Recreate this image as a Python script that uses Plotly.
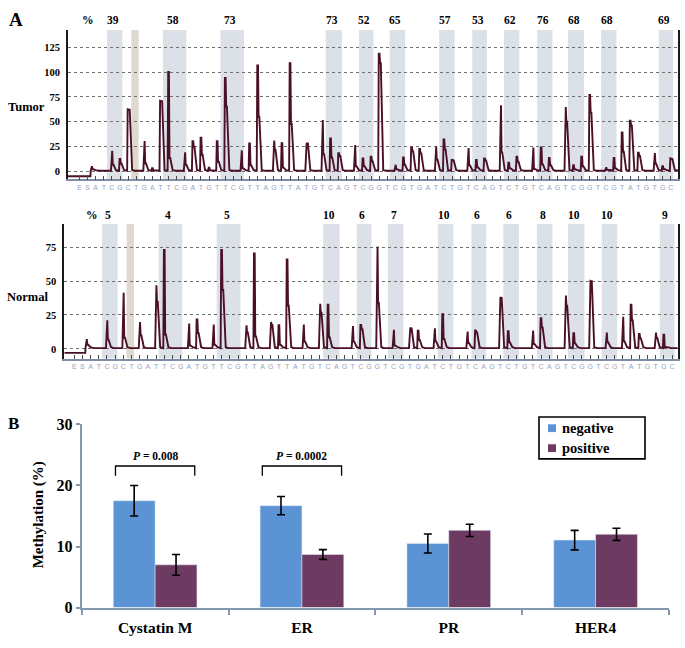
import plotly.graph_objects as go

W, H = 685, 648

# ---------------- Panel A data (pyrograms) ----------------
dispensation_seq = list("ESATCGCTGA" "TTCGATGTTC" "GTTAGTTATG" "TCAGTCGGTC"
                        "GTGATCTGTC" "AGTCTGTCAG" "TCGGTCGTAT" "GTGC")

# shaded CpG regions (dispensation index ranges); the beige one is the bisulfite control
cpg_regions = [(3.4, 5.3), (10.3, 13.2), (17.4, 20.3), (30.4, 32.4), (34.5, 36.3),
               (38.3, 40.2), (44.4, 46.3), (48.5, 50.3), (52.4, 54.3), (56.5, 58.4),
               (60.3, 62.3), (64.4, 66.3), (71.5, 73.3)]
control_region = (6.4, 7.3)

tumor_pct = ["39", "58", "73", "73", "52", "65", "57", "53", "62", "76", "68", "68", "69"]
normal_pct = ["5", "4", "5", "10", "6", "7", "10", "6", "6", "8", "10", "10", "9"]

tumor_start_level = -5
tumor_pos = [1.5, 4, 5, 6, 8, 9, 10, 11, 13, 14, 15, 16, 17, 18, 20, 21, 22, 24, 25, 26,
             28, 30, 31, 32, 34, 35, 36, 37, 39, 40, 41, 42, 44, 45, 46, 48, 49, 50, 52,
             53, 54, 56, 57, 58, 60, 61, 62, 63, 65, 66, 67, 68, 69, 71, 72, 73]
tumor_peak = [5, 20.6, 12.4, 62.5, 30.4, 3, 71, 100, 19, 30.4, 33.7, 3.6, 30.4, 94, 21, 28,
              106.6, 31, 28.4, 109, 28.4, 51.7, 33, 18.3, 26.5, 13, 14.7, 118.4, 6.5, 14,
              24, 22.6, 25, 32, 11.4, 23.5, 11.4, 13, 66.4, 8.5, 14.7, 24, 24, 13.4, 64.7,
              6, 14.7, 76.8, 4, 13.4, 39, 51, 18.6, 18.3, 5.2, 13]
tumor_tail = [2, 6.5, 7.5, 62, 8, 1, 70.5, 13.4, 6.5, 24.5, 16.7, 1, 9.5, 65, 3, 6,
              55, 21.6, 3.6, 47.7, 28, 17.3, 14, 15.4, 5, 5, 10, 109, 2, 6.5,
              20, 18, 11.8, 22, 11, 6, 4, 10.8, 19, 3, 9.5, 2.3, 7, 6, 50,
              2, 5, 59, 1.5, 3, 19.6, 45.8, 15.4, 7.5, 2.3, 12.4]

normal_start_level = -3
normal_pos = [1.5, 4, 6, 8, 10, 11, 14, 15, 17, 18, 21, 22, 24, 25, 26, 28, 30, 31, 34, 35,
              37, 39, 41, 42, 44, 45, 48, 49, 52, 53, 56, 57, 60, 61, 63, 65, 67, 68, 69,
              71, 72]
normal_peak = [7.2, 21, 41.5, 19.8, 47, 73, 18.6, 21.7, 18, 73, 17.4, 70.5, 19.8, 17.4, 66,
               17.9, 33.3, 32.6, 16.9, 17.6, 75.6, 14, 15.7, 13.3, 15.2, 25.6, 12.8, 13.5,
               38.2, 13, 13.5, 22.7, 39.4, 11.6, 50.2, 12, 23.7, 32.6, 10.9, 12, 10.4]
normal_tail = [3, 6.8, 8.2, 10, 34.8, 10.6, 2.4, 11.6, 3, 43.5, 12, 9.2, 17.6, 3, 31.9,
               5.3, 26.6, 8.5, 5.3, 14.5, 33.8, 2.4, 15, 6.5, 5.5, 7.2, 4.3, 12,
               37.5, 4.8, 3.6, 15.7, 31.9, 4, 50, 4.8, 5.5, 21, 7.7, 8, 1.2]

# ---------------- Panel B data (bar chart) ----------------
categories = ["Cystatin M", "ER", "PR", "HER4"]
series_names = ["negative", "positive"]
neg_mean = [17.5, 16.7, 10.5, 11.05]
neg_err = [2.5, 1.5, 1.55, 1.6]
pos_mean = [7.0, 8.7, 12.65, 12.0]
pos_err = [1.7, 0.8, 1.0, 1.0]
p_values = ["0.008", "0.0002", "", ""]

SERIF = "Liberation Serif"
SANS = "Liberation Sans"
TRACE_COLOR = "#4a1027"
NEG_COLOR = "#5B93D5"
POS_COLOR = "#6D3B62"


def pyro_line(pos, peak, tail, start_level, x0, x1):
    xs = [x0, pos[0] - 0.15]
    ys = [start_level, start_level]
    for p, a, b in zip(pos, peak, tail):
        xs += [p - 0.12, p - 0.05, p + 0.04, p + 0.11, p + 0.2, p + 0.5, p + 0.85]
        ys += [0.5, a, a, b, b, 1.2, 0.5]
    xs.append(x1)
    ys.append(0.5)
    return xs, ys


def px_x(px):
    return px / W


def px_y(py):
    return 1 - py / H


def bold(size, family=SERIF, color="black"):
    return dict(family=family, size=size, color=color, weight="bold")


fig = go.Figure()

t_xr = [-1.42, 73.93]
n_xr = [-1.21, 73.69]
tx, ty = pyro_line(tumor_pos, tumor_peak, tumor_tail, tumor_start_level, t_xr[0], t_xr[1])
nx, ny = pyro_line(normal_pos, normal_peak, normal_tail, normal_start_level, n_xr[0], n_xr[1])

fig.add_trace(go.Scatter(x=tx, y=ty, mode="lines", line=dict(color=TRACE_COLOR, width=1.9),
                         showlegend=False, hoverinfo="skip", xaxis="x", yaxis="y"))
fig.add_trace(go.Scatter(x=nx, y=ny, mode="lines", line=dict(color=TRACE_COLOR, width=1.9),
                         showlegend=False, hoverinfo="skip", xaxis="x2", yaxis="y2"))

fig.add_trace(go.Bar(x=categories, y=neg_mean, name=series_names[0], marker_color=NEG_COLOR,
                     error_y=dict(type="data", array=neg_err, color="black", thickness=1.6, width=4),
                     showlegend=False, xaxis="x3", yaxis="y3"))
fig.add_trace(go.Bar(x=categories, y=pos_mean, name=series_names[1], marker_color=POS_COLOR,
                     error_y=dict(type="data", array=pos_err, color="black", thickness=1.6, width=4),
                     showlegend=False, xaxis="x3", yaxis="y3"))

shapes = []
annotations = []


def note(x, y, text, font, xref="paper", yref="paper", **kw):
    d = dict(x=x, y=y, xref=xref, yref=yref, text=text, showarrow=False, font=font,
             xanchor="center", yanchor="middle")
    d.update(kw)
    annotations.append(d)


for xa, ya, pcts, label_y in (("x", "y", tumor_pct, 12), ("x2", "y2", normal_pct, 213)):
    for (a, b), pct in zip(cpg_regions, pcts):
        shapes.append(dict(type="rect", xref=xa, yref=ya + " domain", x0=a, x1=b, y0=0, y1=1,
                           fillcolor="#DCE1E8", line_width=0, layer="below"))
        note((a + b) / 2, px_y(label_y), pct, bold(11.5), xref=xa, xshift=-2)
    a, b = control_region
    shapes.append(dict(type="rect", xref=xa, yref=ya + " domain", x0=a, x1=b, y0=0, y1=1,
                       fillcolor="#DDD9CE", line_width=0, layer="below"))

note(px_x(88), px_y(12), "%", bold(11.5))
note(px_x(92), px_y(213), "%", bold(11.5))
note(px_x(16), px_y(12), "A", bold(19))
note(px_x(13), px_y(427), "B", bold(17))
note(px_x(26), px_y(102), "Tumor", bold(12.5))
note(px_x(27), px_y(297), "Normal", bold(12.5))
note(px_x(38), px_y(521), "Methylation (%)", bold(15), textangle=-90)

# significance brackets
for i, p in enumerate(p_values):
    if p:
        shapes.append(dict(type="path", xref="x3", yref="y3",
                           path=f"M {i-0.27},21.6 L {i-0.27},23.2 L {i+0.27},23.2 L {i+0.27},21.6",
                           line=dict(color="black", width=1.3)))
        note(i, 24.9, f"<i>P</i> = {p}", bold(11.5), xref="x3", yref="y3")

# legend drawn by hand (box, swatches, labels)
shapes.append(dict(type="rect", xref="paper", yref="paper",
                   x0=px_x(539), x1=px_x(645), y0=px_y(463), y1=px_y(420),
                   line=dict(color="black", width=1.6), fillcolor="white"))
for k, (name, col) in enumerate(zip(series_names, [NEG_COLOR, POS_COLOR])):
    cy = 431.5 + 20.5 * k
    shapes.append(dict(type="rect", xref="paper", yref="paper",
                       x0=px_x(548), x1=px_x(556), y0=px_y(cy + 4), y1=px_y(cy - 4),
                       line_width=0, fillcolor=col))
    note(px_x(560), px_y(cy), name, bold(14.5), xanchor="left")

tick_font_small = bold(10.5)
letter_font = dict(family=SANS, size=7, color="#93A3C2")

fig.update_layout(
    width=W, height=H, autosize=False,
    margin=dict(l=0, r=0, t=0, b=0),
    paper_bgcolor="white", plot_bgcolor="rgba(0,0,0,0)",
    shapes=shapes, annotations=annotations, showlegend=False,
    barmode="group", bargap=0.43, bargroupgap=0,
    xaxis=dict(domain=[px_x(68), px_x(678.3)], anchor="y", range=t_xr,
               tickmode="array", tickvals=list(range(len(dispensation_seq))), ticktext=dispensation_seq,
               tickangle=0, ticks="inside", ticklen=4, tickcolor="#4a4a4a", tickwidth=1,
               showline=True, linecolor="#7f8ea6", linewidth=1.5, showgrid=False, zeroline=False,
               tickfont=letter_font),
    yaxis=dict(domain=[px_y(176), px_y(22.7)], anchor="x", range=[-8.2, 142.3],
               tickvals=[0, 25, 50, 75, 100, 125], ticks="", ticklabelstandoff=4,
               showline=True, linecolor="#1a1a1a", linewidth=2, mirror=True,
               showgrid=True, gridcolor="#6f6f6f", griddash="dot", gridwidth=1,
               zeroline=False, tickfont=tick_font_small),
    xaxis2=dict(domain=[px_x(64.3), px_x(677.7)], anchor="y2", range=n_xr,
                tickmode="array", tickvals=list(range(len(dispensation_seq))), ticktext=dispensation_seq,
                tickangle=0, ticks="inside", ticklen=4, tickcolor="#4a4a4a", tickwidth=1,
                showline=True, linecolor="#7f8ea6", linewidth=1.5, showgrid=False, zeroline=False,
                tickfont=letter_font),
    yaxis2=dict(domain=[px_y(360), px_y(221.7)], anchor="x2", range=[-7.2, 92.3],
                tickvals=[0, 25, 50, 75], ticks="", ticklabelstandoff=4,
                showline=True, linecolor="#1a1a1a", linewidth=2, mirror=True,
                showgrid=True, gridcolor="#6f6f6f", griddash="dot", gridwidth=1,
                zeroline=False, tickfont=tick_font_small),
    xaxis3=dict(domain=[px_x(81.7), px_x(669)], anchor="y3", type="category", range=[-0.5, 3.5],
                tickson="boundaries", ticks="outside", ticklen=5, tickcolor="#8497b0", tickwidth=1.5,
                showline=True, linecolor="#8497b0", linewidth=2, showgrid=False, zeroline=False,
                ticklabelstandoff=5, tickfont=bold(15.5)),
    yaxis3=dict(domain=[px_y(615.7), px_y(427.7)], anchor="x3", range=[0, 30],
                tickvals=[0, 10, 20, 30], ticks="outside", ticklen=4, tickcolor="#8497b0", tickwidth=1.5,
                showline=True, linecolor="#8497b0", linewidth=2, showgrid=False, zeroline=False,
                tickfont=bold(16)),
)

fig.write_html("out.html", config={"displayModeBar": False},
               post_script="document.body.style.margin='0px';document.body.style.overflow='hidden';")
